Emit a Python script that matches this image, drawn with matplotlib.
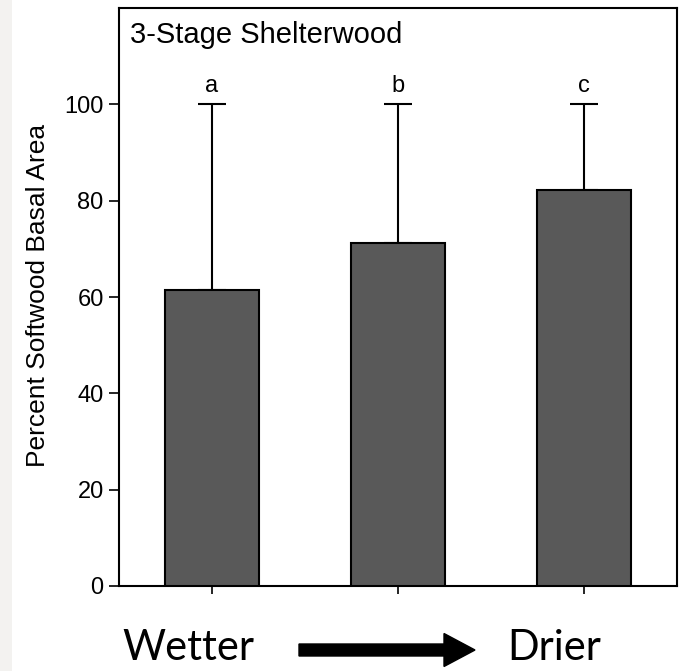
import matplotlib
matplotlib.use("Agg")
import matplotlib.pyplot as plt
from matplotlib.patches import FancyArrow, Rectangle
import numpy as np

# Data
categories = ["Wetter", "Middle", "Drier"]
means = [61.4, 71.2, 82.2]
upper = [100, 100, 100]
letters = ["a", "b", "c"]
yticks = [0, 20, 40, 60, 80, 100]

plt.rcParams['font.family'] = ['Liberation Sans', 'DejaVu Sans']

W, H, DPI = 688, 671, 100
fig = plt.figure(figsize=(W / DPI, H / DPI), dpi=DPI)
fig.patch.set_facecolor('white')

# light gray strip on the left edge
fig.patches.append(Rectangle((0, 0), 12 / W, 1, transform=fig.transFigure,
                             facecolor='#f3f2f0', edgecolor='none', zorder=0))

ax = fig.add_axes([119 / W, (H - 586) / H, (677 - 119) / W, (586 - 8) / H])
x = np.arange(len(categories))
means_a = np.array(means)
err_up = np.array(upper) - means_a

ax.errorbar(x, means_a, yerr=[np.zeros_like(err_up), err_up], fmt='none',
            ecolor='black', elinewidth=1.5, capsize=10, capthick=1.5, zorder=2)
ax.bar(x, means_a, width=0.51, color='#595959', edgecolor='black',
       linewidth=1.5, zorder=3)

for xi, u, lab in zip(x, upper, letters):
    ax.text(xi, u + 2.5, lab, ha='center', va='baseline', fontsize=17)

ax.set_xlim(-0.5, 2.5)
ax.set_ylim(0, 120)
ax.set_yticks(yticks)
ax.set_yticklabels([str(t) for t in yticks])
ax.set_xticks(x)
ax.set_xticklabels([])
ax.tick_params(axis='y', direction='out', length=7, width=1.2, labelsize=17, pad=4)
ax.tick_params(axis='x', direction='out', length=6, width=1.2)
for s in ax.spines.values():
    s.set_linewidth(1.5)

ax.text(11 / 558, (586 - 43) / 578, "3-Stage Shelterwood", transform=ax.transAxes,
        ha='left', va='baseline', fontsize=21)

fig.text(38 / W, (H - 295) / H, "Percent Softwood Basal Area", rotation=90,
         ha='center', va='center', fontsize=19)

# Bottom annotation
fig.text(122 / W, (H - 660) / H, "Wetter", ha='left', va='baseline',
         fontsize=30, family=['Lato', 'DejaVu Sans'])
fig.text(507 / W, (H - 660) / H, "Drier", ha='left', va='baseline',
         fontsize=30, family=['Lato', 'DejaVu Sans'])
arrow = FancyArrow(299 / DPI, (H - 650) / DPI, (475 - 299) / DPI, 0,
                   width=12 / DPI, head_width=33 / DPI, head_length=31 / DPI,
                   length_includes_head=True, color='black',
                   transform=fig.dpi_scale_trans)
fig.patches.append(arrow)

fig.savefig("out.png", dpi=DPI)
